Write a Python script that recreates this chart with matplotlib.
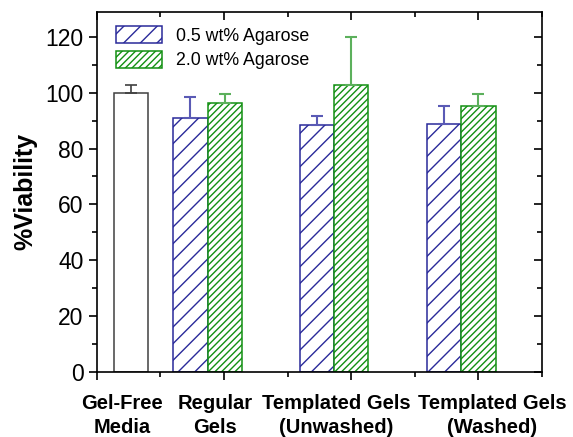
import matplotlib
matplotlib.use('Agg')
import matplotlib.pyplot as plt
from matplotlib.ticker import MultipleLocator
import matplotlib.transforms as mtransforms

plt.rcParams['font.family'] = ['Liberation Sans', 'DejaVu Sans']
plt.rcParams['hatch.linewidth'] = 1.0

# data
groups = ['Gel-Free\nMedia', 'Regular\nGels', 'Templated Gels\n(Unwashed)', 'Templated Gels\n(Washed)']
control_val = 100.0
control_err = 2.6
low_vals = [90.8, 88.5, 88.9]      # 0.5 wt% Agarose
low_errs = [7.6, 3.0, 6.2]
high_vals = [96.3, 102.6, 95.1]    # 2.0 wt% Agarose
high_errs = [3.2, 17.4, 4.3]

# bar geometry (x in axis units, major ticks at 0..3)
width = 0.27
control_x = 0.27
group_x = [0.87, 1.865, 2.865]
label_x = [0.20, 0.93, 1.88, 3.11]

fig = plt.figure(figsize=(5.73, 4.37), dpi=100)
ax = fig.add_axes([0.169, 0.149, 0.777, 0.824])

ax.bar(control_x, control_val, width, color='white', edgecolor='#404040', linewidth=1.1, zorder=2)
ax.errorbar(control_x, control_val, yerr=[[0], [control_err]], fmt='none',
            ecolor='#404040', elinewidth=1.2, capsize=4, capthick=1.2, zorder=3)

lx = [g - width / 2 for g in group_x]
hx = [g + width / 2 for g in group_x]
ax.bar(lx, low_vals, width, color='white', edgecolor='#2a2a9a', hatch='//',
       linewidth=1.1, label='0.5 wt% Agarose', zorder=2)
ax.bar(hx, high_vals, width, color='white', edgecolor='#129012', hatch='/////',
       linewidth=1.1, label='2.0 wt% Agarose', zorder=2)
ax.errorbar(lx, low_vals, yerr=[[0] * 3, low_errs], fmt='none', ecolor='#5a5ab5',
            elinewidth=1.5, capsize=4, capthick=1.5, zorder=3)
ax.errorbar(hx, high_vals, yerr=[[0] * 3, high_errs], fmt='none', ecolor='#5cb05c',
            elinewidth=1.5, capsize=4, capthick=1.5, zorder=3)

ax.set_xlim(0, 3.5)
ax.set_ylim(0, 129)
ax.yaxis.set_major_locator(MultipleLocator(20))
ax.yaxis.set_minor_locator(MultipleLocator(10))
ax.xaxis.set_major_locator(MultipleLocator(1))
ax.xaxis.set_minor_locator(MultipleLocator(0.5))
ax.set_xticklabels([])
ax.tick_params(axis='y', which='major', labelsize=16.5, length=6, width=1.2)
ax.tick_params(axis='both', which='minor', length=3.5, width=1.2)
ax.tick_params(axis='x', which='major', length=6, width=1.2)
ax.tick_params(which='both', top=True, right=True)
for sp in ax.spines.values():
    sp.set_linewidth(1.2)

# inward ticks on top/right, outward on bottom/left
for t in ax.xaxis.get_major_ticks() + ax.xaxis.get_minor_ticks():
    t.tick2line.set_marker(3)
for t in ax.yaxis.get_major_ticks() + ax.yaxis.get_minor_ticks():
    t.tick2line.set_marker(0)

ax.set_ylabel('%Viability', fontsize=18, fontweight='bold', labelpad=6)

trans = mtransforms.blended_transform_factory(ax.transData, ax.transAxes)
for x, lab in zip(label_x, groups):
    ax.text(x, -0.062, lab, transform=trans, ha='center', va='top',
            fontsize=14.5, fontweight='bold', linespacing=1.3)

ax.legend(loc='upper left', fontsize=12.8, frameon=False, handlelength=2.6,
          handleheight=1.1, borderaxespad=0.4, labelspacing=0.35,
          bbox_to_anchor=(0.01, 1.0))

fig.savefig('out.png', dpi=100)
